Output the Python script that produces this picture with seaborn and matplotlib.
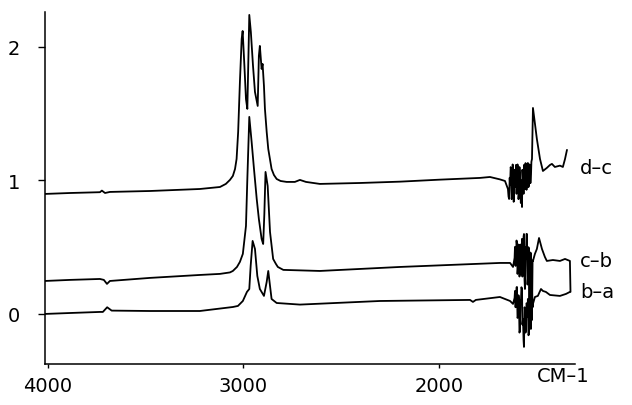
import matplotlib
matplotlib.use("Agg")
import matplotlib.pyplot as plt
import matplotlib.transforms as mtransforms
import seaborn as sns
import pandas as pd

# ---- data (wavenumber cm-1, absorbance-like units) ----
dc_wn = [4015, 3887, 3734, 3724, 3708, 3683, 3478, 3223, 3120, 3090, 3069, 3054,
         3043, 3035, 3027, 3018, 3009, 3004, 2995, 2987, 2980, 2970, 2962, 2951,
         2941, 2927, 2921, 2916, 2907, 2902, 2895, 2890, 2881, 2873, 2856, 2844,
         2830, 2810, 2779, 2737, 2711, 2680, 2609, 2404, 2199, 1995, 1790, 1739,
         1688, 1662,
         1647, 1644, 1641, 1638, 1636, 1633, 1631, 1628, 1626, 1623, 1621, 1618,
         1616, 1613, 1611, 1608, 1606, 1603, 1601, 1598, 1596, 1593, 1591, 1588,
         1586, 1583, 1581, 1578, 1575, 1573, 1570, 1567, 1565, 1562, 1560, 1557,
         1555, 1552, 1550, 1547, 1545, 1542, 1540, 1537, 1535, 1532, 1529, 1527,
         1524, 1519,
         1499, 1483, 1468, 1448, 1432, 1422, 1407, 1381, 1366, 1355, 1345]
dc_val = [0.899, 0.906, 0.912, 0.924, 0.906, 0.914, 0.921, 0.936, 0.951, 0.974, 1.004, 1.034,
          1.086, 1.161, 1.363, 1.738, 2.06, 2.12, 1.858, 1.61, 1.536, 2.24, 2.112, 1.858,
          1.663, 1.558, 1.933, 2.008, 1.835, 1.873, 1.708, 1.536, 1.363, 1.236, 1.086, 1.041,
          1.011, 0.996, 0.989, 0.989, 1.004, 0.989, 0.974, 0.981, 0.991, 1.006, 1.019, 1.026,
          1.008, 0.996,
          0.936, 0.88, 0.861, 1.02, 0.966, 1.10, 1.086, 0.86, 0.891, 1.12, 1.101, 0.84,
          0.846, 1.08, 1.049, 0.95, 1.116, 0.90, 0.951, 1.12, 1.086, 0.86, 0.891, 1.10,
          1.056, 0.90, 0.831, 1.00, 0.801, 1.08, 1.011, 0.90, 1.116, 1.00, 0.936, 1.13,
          1.086, 0.93, 1.011, 1.12, 1.131, 0.95, 0.966, 1.12, 1.086, 0.98, 1.041, 1.14,
          1.161, 1.543,
          1.311, 1.161, 1.071, 1.094, 1.116, 1.124, 1.101, 1.111, 1.101, 1.161, 1.229]

cb_wn = [4015, 3887, 3734, 3714, 3698, 3683, 3478, 3223, 3120, 3069, 3054, 3033,
         3018, 3003, 2987, 2980, 2970, 2958, 2946, 2932, 2921, 2907, 2899, 2893,
         2887, 2876, 2864, 2848, 2834, 2824, 2796, 2609, 2199, 1688, 1636, 1621,
         1613, 1611, 1608, 1606, 1603, 1601, 1598, 1596, 1593, 1591, 1588, 1586,
         1583, 1581, 1578, 1575, 1573, 1570, 1567, 1565, 1562, 1560, 1557, 1555,
         1552, 1550, 1547, 1545, 1542, 1540, 1537, 1535, 1532, 1529, 1527, 1524,
         1521, 1519,
         1509, 1499, 1488, 1473, 1458, 1448, 1417, 1381, 1355, 1330, 1327]
cb_val = [0.247, 0.255, 0.262, 0.255, 0.225, 0.247, 0.27, 0.292, 0.3, 0.311, 0.322, 0.352,
          0.39, 0.45, 0.659, 1.011, 1.476, 1.288, 1.086, 0.861, 0.711, 0.562, 0.524, 0.749,
          1.064, 0.959, 0.614, 0.412, 0.375, 0.352, 0.33, 0.322, 0.352, 0.382, 0.382, 0.352,
          0.42, 0.502, 0.36, 0.397, 0.55, 0.524, 0.30, 0.337, 0.52, 0.487, 0.28, 0.3,
          0.52, 0.45, 0.30, 0.562, 0.28, 0.352, 0.58, 0.599, 0.25, 0.187, 0.50, 0.412,
          0.60, 0.599, 0.22, 0.262, 0.50, 0.487, 0.0, -0.112, 0.46, 0.45, -0.05, -0.037,
          0.40, 0.397,
          0.45, 0.487, 0.569, 0.487, 0.427, 0.397, 0.404, 0.397, 0.412, 0.397, 0.165]

ba_wn = [4015, 3887, 3734, 3719, 3697, 3674, 3478, 3223, 3054, 3028, 3003, 2982,
         2970, 2963, 2953, 2941, 2929, 2916, 2895, 2881, 2873, 2864, 2856, 2830,
         2711, 2302, 1841, 1826, 1811, 1688, 1636, 1621,
         1613, 1611, 1608, 1606, 1603, 1601, 1598, 1596, 1593, 1591, 1588, 1586,
         1583, 1581, 1578, 1575, 1573, 1570, 1567, 1565, 1562, 1560, 1557, 1555,
         1552, 1550, 1547, 1545, 1542, 1540, 1537, 1535, 1532, 1529, 1527, 1524,
         1521, 1519,
         1509, 1494, 1478, 1468, 1453, 1432, 1381, 1350, 1330]
ba_val = [0.0, 0.007, 0.015, 0.015, 0.05, 0.025, 0.022, 0.022, 0.052, 0.06, 0.097, 0.165,
          0.187, 0.36, 0.547, 0.487, 0.285, 0.187, 0.135, 0.24, 0.322, 0.21, 0.112, 0.082,
          0.07, 0.097, 0.105, 0.09, 0.105, 0.127, 0.097, 0.075,
          0.12, 0.172, 0.05, 0.112, 0.20, 0.202, -0.03, -0.022, 0.14, 0.112, -0.14, -0.127,
          0.10, 0.075, 0.20, 0.187, -0.08, -0.037, -0.20, -0.247, 0.05, 0.037, -0.14, -0.112,
          0.08, 0.075, -0.02, 0.112, -0.16, -0.15, 0.35, 0.397, -0.10, -0.112, 0.20, 0.187,
          0.05, 0.075,
          0.127, 0.135, 0.187, 0.172, 0.165, 0.142, 0.135, 0.15, 0.165]

trace_labels = ["d–c", "c–b", "b–a"]
label_y = [1.10, 0.40, 0.17]
x_ticks = [4000, 3000, 2000]
y_ticks = [0, 1, 2]
unit_label = "CM–1"

# ---- figure ----
sns.set_style("ticks")
plt.rcParams['font.family'] = ['DejaVu Sans']

fig = plt.figure(figsize=(6.32, 4.06), dpi=100)
ax = fig.add_axes([0.0712, 0.101, 0.8386, 0.867])

for wn, val in [(dc_wn, dc_val), (cb_wn, cb_val), (ba_wn, ba_val)]:
    df = pd.DataFrame({"wn": wn, "val": val})
    sns.lineplot(data=df, x="wn", y="val", ax=ax, color="black", lw=1.3,
                 sort=False, estimator=None)

ax.set_xlim(4015, 1304)
ax.set_ylim(-0.375, 2.262)
ax.set_xticks(x_ticks)
ax.set_xticklabels([str(t) for t in x_ticks])
ax.set_yticks(y_ticks)
ax.set_yticklabels([str(t) for t in y_ticks])
ax.set_xlabel("")
ax.set_ylabel("")

for s in ["top", "right"]:
    ax.spines[s].set_visible(False)
for s in ["left", "bottom"]:
    ax.spines[s].set_color("black")
    ax.spines[s].set_linewidth(1.1)

ax.tick_params(axis="y", direction="out", length=5, width=1, pad=13,
               labelsize=14, colors="black")
ax.tick_params(axis="x", direction="out", length=3, width=1, pad=6,
               labelsize=14, colors="black")

trans = mtransforms.blended_transform_factory(ax.transAxes, ax.transData)
for lab, yy in zip(trace_labels, label_y):
    ax.text(1.01, yy, lab, transform=trans, ha="left", va="center",
            fontsize=14, color="black", clip_on=False)

ax.text(0.977, -0.034, unit_label, transform=ax.transAxes, ha="center", va="center",
        fontsize=14, color="black", clip_on=False)

fig.savefig("out.png", dpi=100, facecolor="white")
